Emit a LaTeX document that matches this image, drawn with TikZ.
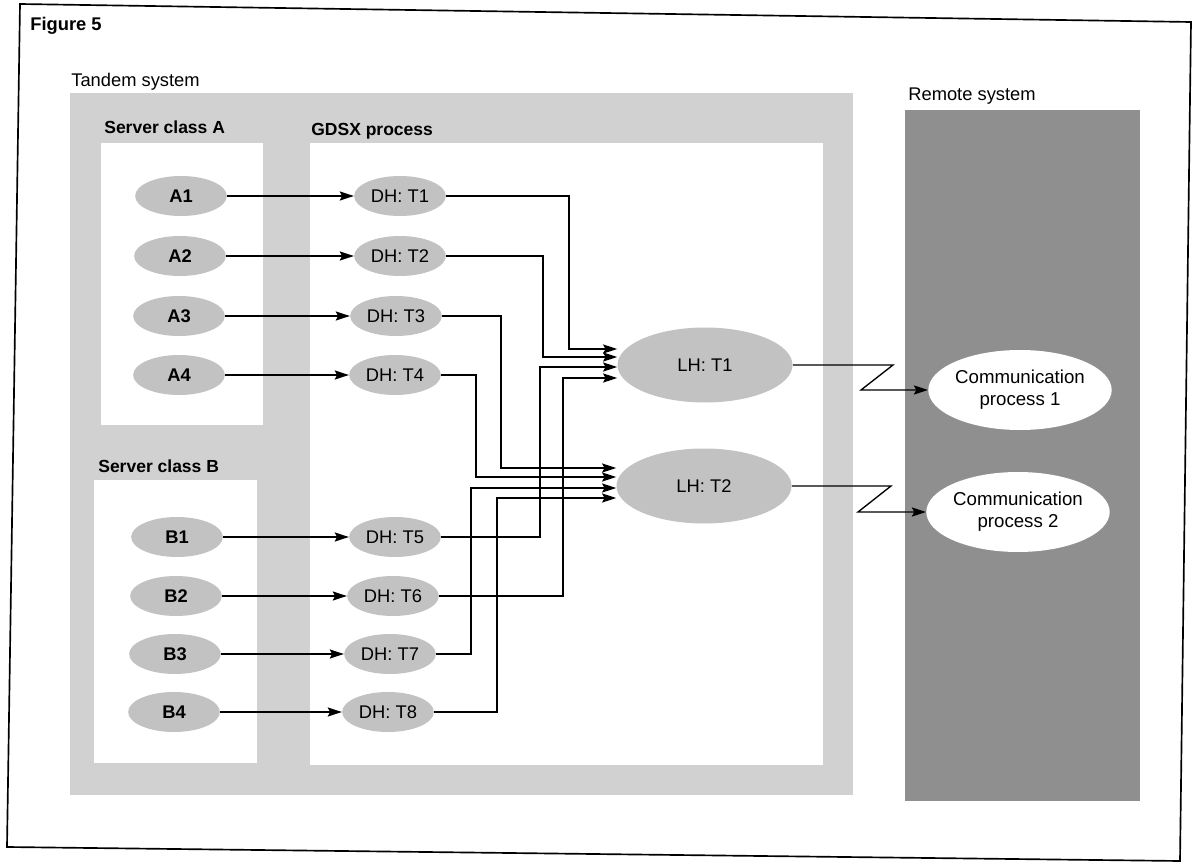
\documentclass[tikz,border=0pt]{standalone}
\usepackage{fontspec}
\setmainfont{Liberation Sans}
\usetikzlibrary{shapes.geometric,arrows.meta}
\definecolor{tandemgray}{gray}{0.82}
\definecolor{remotegray}{gray}{0.56}
\definecolor{procgray}{gray}{0.76}
\begin{document}
\begin{tikzpicture}[x=0.6pt,y=-0.6pt,
  font=\fontsize{11}{13}\selectfont,
  proc/.style={ellipse, fill=procgray, inner sep=0pt, minimum width=55pt, minimum height=24pt},
  srv/.style={proc, font=\fontsize{11}{13}\selectfont\bfseries},
  lh/.style={ellipse, fill=procgray, inner sep=0pt, minimum width=105pt, minimum height=45pt},
  comm/.style={ellipse, fill=white, inner sep=0pt, minimum width=105pt, minimum height=48pt, align=center, font=\fontsize{11.2}{13}\selectfont},
  lbl/.style={anchor=base west, inner sep=0pt},
  blbl/.style={lbl, font=\fontsize{10.5}{13}\selectfont\bfseries},
  arr/.style={line width=0.8pt, -{Stealth[length=8.5pt,width=5.5pt,inset=1.5pt]}}]
\useasboundingbox (0,0) rectangle (1196,863);
% outer frame (slightly skewed as in the scan)
\draw[line width=1pt] (20,4) -- (1191,22) -- (1180,861) -- (7,847) -- cycle;
\node[lbl, font=\fontsize{11}{13}\selectfont\bfseries] (fig) at (30,31) {Figure 5};
% regions
\fill[tandemgray] (70,93) rectangle (853,795);
\fill[white] (101,143) rectangle (263,425);
\fill[white] (94,480) rectangle (257,763);
\fill[white] (310,143) rectangle (823,765);
\fill[remotegray] (905,110) rectangle (1140,801);
% labels
\node[lbl] (tandem) at (71,87) {Tandem system};
\node[blbl] (sca) at (104,134) {Server class A};
\node[blbl] (gdsx) at (311,136) {GDSX process};
\node[blbl] (scb) at (98,472) {Server class B};
\node[lbl] (remote) at (908,101) {Remote system};
% server processes
\node[srv] (A1) at (181,196) {A1};
\node[srv] (A2) at (180,256) {A2};
\node[srv] (A3) at (179,316) {A3};
\node[srv] (A4) at (179,375) {A4};
\node[srv] (B1) at (177,537) {B1};
\node[srv] (B2) at (176,596) {B2};
\node[srv] (B3) at (175,654) {B3};
\node[srv] (B4) at (174,712) {B4};
% device handlers
\node[proc] (DH1) at (400,196) {DH: T1};
\node[proc] (DH2) at (400,256) {DH: T2};
\node[proc] (DH3) at (396,316) {DH: T3};
\node[proc] (DH4) at (395,375) {DH: T4};
\node[proc] (DH5) at (395,537) {DH: T5};
\node[proc] (DH6) at (393,596) {DH: T6};
\node[proc] (DH7) at (390,654) {DH: T7};
\node[proc] (DH8) at (388,712) {DH: T8};
% line handlers
\node[lh] (LH1) at (705,365) {LH: T1};
\node[lh] (LH2) at (704,486) {LH: T2};
% communication processes
\node[comm] (CP1) at (1020,390) {Communication\\process 1};
\node[comm] (CP2) at (1018,512) {Communication\\process 2};
% server -> DH
\foreach \i in {1,2,3,4} {\draw[arr] (A\i.east) -- (DH\i.west);}
\draw[arr] (B1.east) -- (DH5.west);
\draw[arr] (B2.east) -- (DH6.west);
\draw[arr] (B3.east) -- (DH7.west);
\draw[arr] (B4.east) -- (DH8.west);
% DH -> LH1
\draw[arr] (DH1.east) -| (569,349) -- (LH1.west |- 0,349);
\draw[arr] (DH2.east) -| (543,357) -- (LH1.west |- 0,357);
\draw[arr] (DH5.east) -| (540,367) -- (LH1.west |- 0,367);
\draw[arr] (DH6.east) -| (563,378) -- (LH1.west |- 0,378);
% DH -> LH2
\draw[arr] (DH3.east) -| (501,468) -- (LH2.west |- 0,468);
\draw[arr] (DH4.east) -| (476,477) -- (LH2.west |- 0,477);
\draw[arr] (DH7.east) -| (471,488) -- (LH2.west |- 0,488);
\draw[arr] (DH8.east) -| (497,498) -- (LH2.west |- 0,498);
% LH -> communication processes (lightning links)
\draw[arr] (LH1.east) -- (893,365) -- (861,390) -- (CP1.west);
\draw[arr] (LH2.east) -- (891,486) -- (858,512) -- (CP2.west);
\end{tikzpicture}
\end{document}
